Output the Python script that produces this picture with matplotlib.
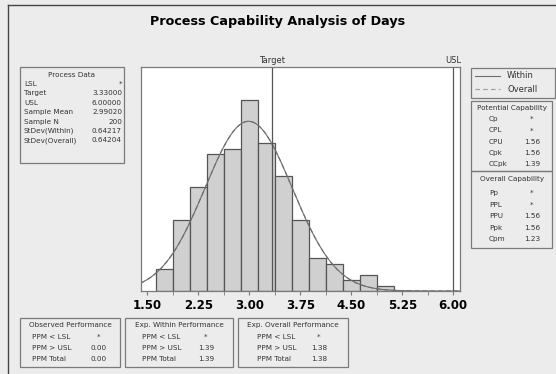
import matplotlib.pyplot as plt
import numpy as np
from matplotlib.patches import Rectangle
from matplotlib.lines import Line2D

# histogram data (bins of width 0.25 centred on these values)
bin_centers = [1.75, 2.00, 2.25, 2.50, 2.75, 3.00, 3.25, 3.50, 3.75, 4.00, 4.25, 4.50, 4.75, 5.00]
counts = [4, 13, 19, 25, 26, 35, 27, 21, 13, 6, 5, 2, 3, 1]
bin_width = 0.25

target = 3.33
usl = 6.0
mean = 2.99020
n = 200
sd_within = 0.64217
sd_overall = 0.64204

tick_values = [1.50, 2.25, 3.00, 3.75, 4.50, 5.25, 6.00]

process_labels = ['LSL', 'Target', 'USL', 'Sample Mean', 'Sample N', 'StDev(Within)', 'StDev(Overall)']
process_values = ['*', '3.33000', '6.00000', '2.99020', '200', '0.64217', '0.64204']

pot_labels = ['Cp', 'CPL', 'CPU', 'Cpk', 'CCpk']
pot_values = ['*', '*', '1.56', '1.56', '1.39']
ovr_labels = ['Pp', 'PPL', 'PPU', 'Ppk', 'Cpm']
ovr_values = ['*', '*', '1.56', '1.56', '1.23']

perf_labels = ['PPM < LSL', 'PPM > USL', 'PPM Total']
observed = ['*', '0.00', '0.00']
exp_within = ['*', '1.39', '1.39']
exp_overall = ['*', '1.38', '1.38']

W, H = 556, 374
bg = '#ececec'
edge = '#7a7a7a'
fs = 5.2

fig = plt.figure(figsize=(W / 100, H / 100), dpi=100, facecolor=bg)


def fx(px):
    return px / W


def fy(py):
    return 1 - py / H


def box(x0, y0, x1, y1):
    fig.add_artist(Rectangle((fx(x0), fy(y1)), fx(x1) - fx(x0), fy(y0) - fy(y1),
                             transform=fig.transFigure, facecolor='none',
                             edgecolor=edge, lw=0.9))


def txt(x, y, s, ha='left', size=fs):
    fig.text(fx(x), fy(y), s, ha=ha, va='center', fontsize=size, color='#333333')


# outer border (top and left)
fig.add_artist(Line2D([fx(8), 1], [fy(5), fy(5)], transform=fig.transFigure, color='#444444', lw=1))
fig.add_artist(Line2D([fx(8), fx(8)], [0, fy(5)], transform=fig.transFigure, color='#444444', lw=1))

fig.text(0.5, fy(22), 'Process Capability Analysis of Days', ha='center', va='center',
         fontsize=9.2, fontweight='bold')

# main histogram
ax = fig.add_axes([fx(141), fy(291), fx(460) - fx(141), fy(67) - fy(291)])
ax.set_facecolor('white')
ax.bar(bin_centers, counts, width=bin_width, color='#d0d0d0', edgecolor='#555555', linewidth=0.9)

xs = np.linspace(1.40, 6.12, 400)
scale = n * bin_width
y_within = scale * np.exp(-0.5 * ((xs - mean) / sd_within) ** 2) / (sd_within * np.sqrt(2 * np.pi))
y_overall = scale * np.exp(-0.5 * ((xs - mean) / sd_overall) ** 2) / (sd_overall * np.sqrt(2 * np.pi))
ax.plot(xs, y_within, color='#6e6e6e', lw=0.8)
ax.plot(xs, y_overall, color='#6e6e6e', lw=0.8, ls=(0, (4, 3)))

ax.axvline(target, color='#555555', lw=0.9)
ax.axvline(usl, color='#555555', lw=0.9)
ax.text(target, 41.3, 'Target', ha='center', va='bottom', fontsize=6, color='#333333')
ax.text(usl, 41.3, 'USL', ha='center', va='bottom', fontsize=6, color='#333333')

ax.set_xlim(1.407, 6.10)
ax.set_ylim(0, 41)
ax.set_xticks(tick_values)
ax.set_xticklabels(['%.2f' % v for v in tick_values], fontsize=8.5, fontweight='bold')
ax.set_xticks([(a + b) / 2 for a, b in zip(tick_values[:-1], tick_values[1:])], minor=True)
ax.tick_params(axis='x', which='both', length=3, color=edge, pad=3)
ax.set_yticks([])
for s in ax.spines.values():
    s.set_color(edge)
    s.set_linewidth(0.9)

# process data box
box(20, 67, 124, 163)
txt(72, 75, 'Process Data', ha='center')
for i, (lab, val) in enumerate(zip(process_labels, process_values)):
    y = 84 + i * 9.4
    txt(24, y, lab)
    txt(122, y, val, ha='right')

# legend
box(471, 68, 555, 98)
fig.add_artist(Line2D([fx(475), fx(500)], [fy(76), fy(76)], transform=fig.transFigure, color='#6e6e6e', lw=0.8))
fig.add_artist(Line2D([fx(475), fx(500)], [fy(89), fy(89)], transform=fig.transFigure, color='#9a9a9a', lw=0.8, ls=(0, (4, 3))))
txt(507, 76, 'Within', size=6)
txt(507, 89, 'Overall', size=6)

# capability boxes
box(471, 101, 552, 171)
txt(512, 108, 'Potential Capability', ha='center')
for i, (lab, val) in enumerate(zip(pot_labels, pot_values)):
    y = 119 + i * 11.3
    txt(489, y, lab)
    txt(532, y, val, ha='center')

box(471, 171, 552, 248)
txt(512, 179, 'Overall Capability', ha='center')
for i, (lab, val) in enumerate(zip(ovr_labels, ovr_values)):
    y = 193 + i * 11.6
    txt(489, y, lab)
    txt(532, y, val, ha='center')

# performance boxes
perf = [('Observed Performance', observed, 20, 120, 32, 99),
        ('Exp. Within Performance', exp_within, 125, 233, 142, 206),
        ('Exp. Overall Performance', exp_overall, 238, 348, 257, 319)]
for title, vals, x0, x1, lx, vx in perf:
    box(x0, 318, x1, 367)
    txt((x0 + x1) / 2, 325, title, ha='center')
    for i, (lab, val) in enumerate(zip(perf_labels, vals)):
        y = 337 + i * 11
        txt(lx, y, lab)
        txt(vx, y, val, ha='center')

fig.savefig('out.png', dpi=100, facecolor=bg)
